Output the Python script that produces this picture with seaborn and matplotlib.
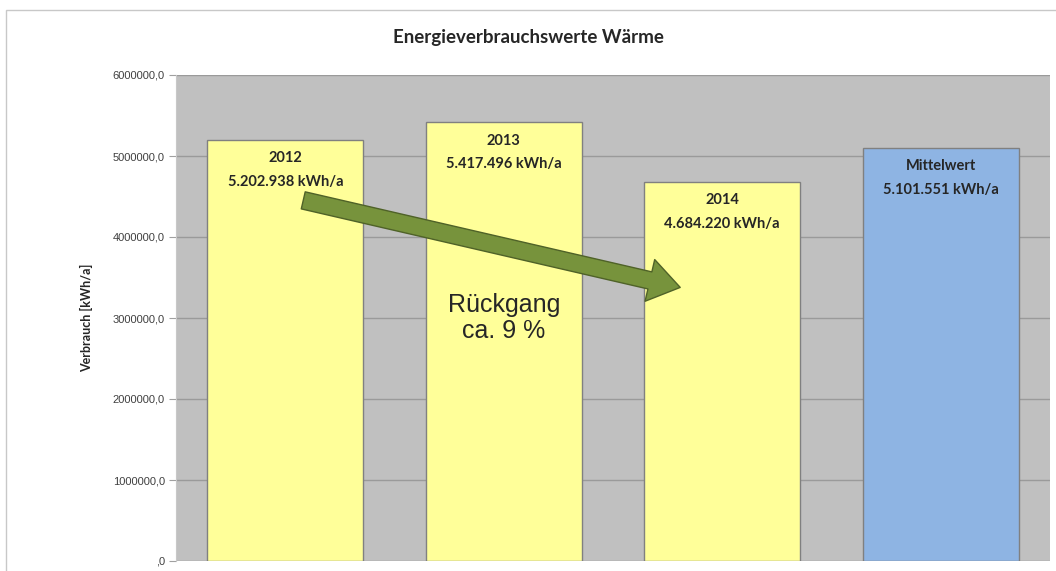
import matplotlib
matplotlib.use("Agg")
import matplotlib.pyplot as plt
import numpy as np
import pandas as pd
import seaborn as sns
from matplotlib.patches import FancyArrowPatch, Rectangle

categories = ["2012", "2013", "2014", "Mittelwert"]
values = [5202938, 5417496, 4684220, 5101551]
value_labels = ["5.202.938 kWh/a", "5.417.496 kWh/a", "4.684.220 kWh/a", "5.101.551 kWh/a"]
bar_colors = ["#FFFF99", "#FFFF99", "#FFFF99", "#8EB4E3"]
yticks = [0, 1000000, 2000000, 3000000, 4000000, 5000000, 6000000]
ytick_labels = [",0", "1000000,0", "2000000,0", "3000000,0", "4000000,0", "5000000,0", "6000000,0"]

sns.set_style("white")
plt.rcParams["font.family"] = ["Lato", "DejaVu Sans"]

df = pd.DataFrame({"cat": categories, "val": values})

fig = plt.figure(figsize=(10.56, 5.71), dpi=100)
fig.patches.append(Rectangle((6 / 1056, -0.1), 1.2, 1 - 10 / 571 + 0.1, transform=fig.transFigure,
                             fill=False, edgecolor="#C8C8C8", linewidth=1.0))
ax = fig.add_axes([176 / 1056, 10 / 571, 874 / 1056, 486 / 571])
ax.set_facecolor("#C0C0C0")

sns.barplot(data=df, x="cat", y="val", hue="cat", palette=bar_colors, legend=False,
            width=0.714, edgecolor="#808080", linewidth=1.0, saturation=1, ax=ax, zorder=3)

ax.set_ylim(0, 6000000)
ax.set_xlim(-0.5, 3.5)
ax.set_yticks(yticks)
ax.set_yticklabels(ytick_labels, fontsize=8, color="#404040", family=["Liberation Sans"])
ax.yaxis.grid(True, color="#9A9A9A", linewidth=1.0, zorder=0)
ax.set_axisbelow(True)
ax.tick_params(axis="y", length=5, color="#A0A0A0", pad=3, left=True)
ax.tick_params(axis="x", bottom=False, labelbottom=False)
ax.set_xlabel("")
ax.set_ylabel("Verbrauch [kWh/a]", fontsize=9, fontweight="bold", labelpad=14)
for s in ax.spines.values():
    s.set_visible(False)
ax.spines["left"].set_visible(True)
ax.spines["left"].set_color("#C8C8C8")

for i, (c, v, lab) in enumerate(zip(categories, values, value_labels)):
    ax.text(i, v - 230000, c, ha="center", va="center", fontsize=10.5, fontweight="bold", zorder=5)
    ax.text(i, v - 520000, lab, ha="center", va="center", fontsize=10.5, fontweight="bold", zorder=5)

arrow = FancyArrowPatch((0.07, 4460000), (1.82, 3370000),
                        arrowstyle="simple,head_width=2.2,head_length=1.6,tail_width=0.9",
                        mutation_scale=14, facecolor="#77933C", edgecolor="#4F6228",
                        linewidth=1.0, zorder=6)
ax.add_patch(arrow)

ax.text(1.0, 3000000, "Rückgang\nca. 9 %", ha="center", va="center", fontsize=18,
        family=["Liberation Sans"], linespacing=1.15, zorder=5)

fig.text(0.5, 1 - 38 / 571, "Energieverbrauchswerte Wärme", ha="center", va="center",
         fontsize=13.5, fontweight="bold")

fig.savefig("out.png", dpi=100)
